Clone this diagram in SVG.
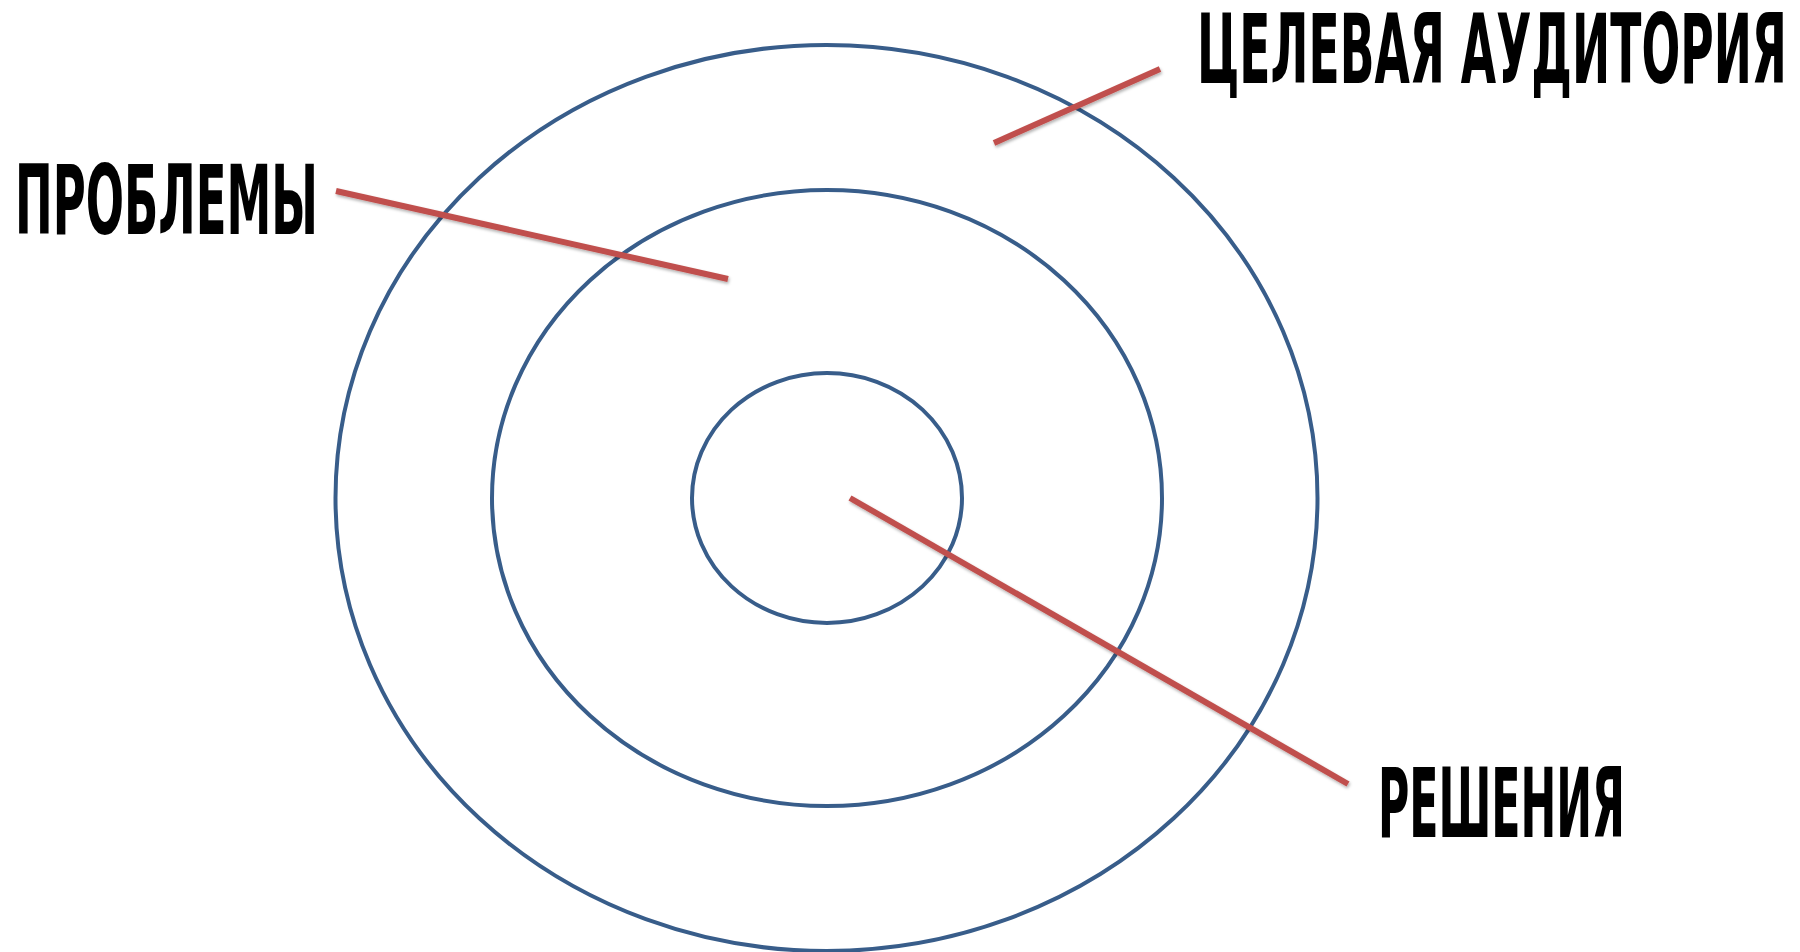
<svg xmlns="http://www.w3.org/2000/svg" width="1800" height="952" viewBox="0 0 1800 952">
<style>
.ring{fill:none;stroke:#385D8A;stroke-width:4}
.ln{stroke:#C0504D;stroke-width:6;stroke-linecap:butt}
.lbl{font-family:"DejaVu Sans Condensed","DejaVu Sans",sans-serif;font-weight:bold;font-size:96px;fill:#000}
</style>
<defs>
<filter id="sh" x="-10%" y="-10%" width="120%" height="120%"><feDropShadow dx="1" dy="2" stdDeviation="1.5" flood-color="#000" flood-opacity="0.3"/></filter>
</defs>
<rect width="1800" height="952" fill="#fff"/>
<g id="outer"><ellipse class="ring" cx="826.5" cy="498" rx="491" ry="453"/></g>
<g id="middle"><ellipse class="ring" cx="827" cy="498" rx="335" ry="308"/></g>
<g id="inner"><ellipse class="ring" cx="827" cy="498" rx="135" ry="125"/></g>
<g id="connectors" filter="url(#sh)">
<line class="ln" x1="336" y1="191" x2="728" y2="279"/>
<line class="ln" x1="994" y1="143" x2="1160" y2="69"/>
<line class="ln" x1="850" y1="498" x2="1348" y2="784"/>
</g>
<g id="label-audience"><text class="lbl" x="1197" y="83" textLength="590" lengthAdjust="spacingAndGlyphs">ЦЕЛЕВАЯ АУДИТОРИЯ</text></g>
<g id="label-problems"><text class="lbl" x="15" y="234" textLength="303" lengthAdjust="spacingAndGlyphs">ПРОБЛЕМЫ</text></g>
<g id="label-solutions"><text class="lbl" x="1378" y="837" textLength="247" lengthAdjust="spacingAndGlyphs">РЕШЕНИЯ</text></g>
</svg>
